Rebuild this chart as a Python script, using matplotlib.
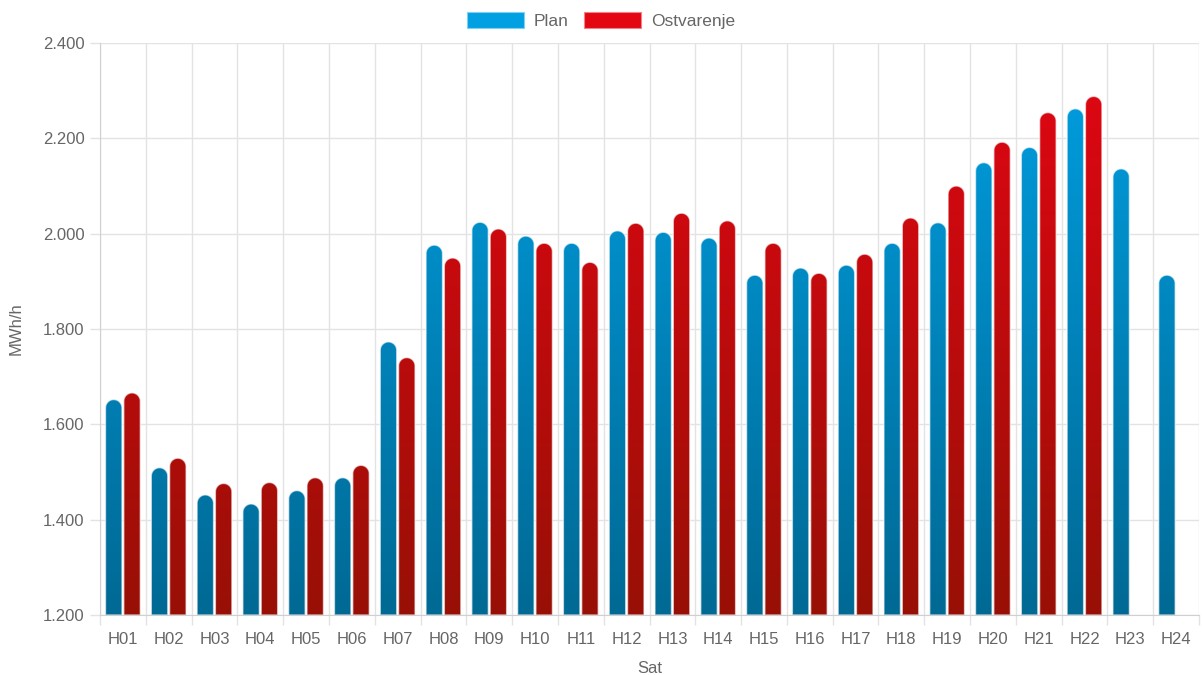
import numpy as np
import matplotlib
matplotlib.use("Agg")
import matplotlib.pyplot as plt
from matplotlib.path import Path
from matplotlib.patches import PathPatch, Patch
from matplotlib.colors import LinearSegmentedColormap
from matplotlib.ticker import FixedLocator, FuncFormatter

plt.rcParams['font.family'] = ['Liberation Sans', 'DejaVu Sans']

hours = [f"H{i:02d}" for i in range(1, 25)]
plan = [1652, 1509, 1452, 1433, 1461, 1488, 1773, 1976, 2024, 1995, 1980, 2006,
        2003, 1991, 1913, 1928, 1934, 1980, 2023, 2149, 2181, 2262, 2136, 1913]
ostvarenje = [1666, 1529, 1476, 1478, 1488, 1514, 1740, 1949, 2010, 1980, 1940, 2022,
              2043, 2027, 1980, 1917, 1957, 2033, 2100, 2192, 2254, 2288, None, None]

YMIN, YMAX = 1200, 2400
GREY = "#666666"

fig = plt.figure(figsize=(12.02, 6.75), dpi=100)
ax = fig.add_axes([100 / 1202, 60 / 675, 1099 / 1202, 572 / 675])
ax.set_xlim(-0.5, 23.5)
ax.set_ylim(YMIN, YMAX)

# pixel -> data scale, for round bar tops
px_x = 1099 / 24.0
px_y = 572 / (YMAX - YMIN)

W = 0.36
OFF = 0.2


def rounded_paths(xs, vals):
    paths = []
    rx = W / 2
    ry = rx * px_x / px_y
    t = np.linspace(0, np.pi, 24)
    for x, v in zip(xs, vals):
        if v is None:
            continue
        x0, x1 = x - rx, x + rx
        cy = v - ry
        arc = np.column_stack([x + rx * np.cos(t), cy + ry * np.sin(t)])
        verts = np.vstack([[x0, YMIN], [x1, YMIN], [x1, cy], arc, [x0, YMIN]])
        codes = [Path.MOVETO] + [Path.LINETO] * (len(verts) - 2) + [Path.CLOSEPOLY]
        paths.append(Path(verts, codes))
    return paths


xs = np.arange(len(hours))
series = [
    ("Plan", plan, -OFF, "#006994", "#00a0e3"),
    ("Ostvarenje", ostvarenje, OFF, "#981006", "#e30613"),
]
grad = np.linspace(0, 1, 256).reshape(-1, 1)
for label, vals, off, c_bot, c_top in series:
    cmap = LinearSegmentedColormap.from_list(label, [c_bot, c_top])
    paths = rounded_paths(xs + off, vals)
    comp = Path.make_compound_path(*paths)
    im = ax.imshow(grad, cmap=cmap, aspect="auto", origin="lower",
                   extent=[-0.5, 23.5, YMIN, YMAX], zorder=2)
    clip = PathPatch(comp, transform=ax.transData, facecolor="none", edgecolor="none")
    ax.add_patch(clip)
    im.set_clip_path(clip)
    for p in paths:
        ax.add_patch(PathPatch(p, facecolor="none", edgecolor="white",
                               lw=1.0, alpha=0.6, zorder=3))

# grid and ticks
ax.set_xticks(xs)
ax.set_xticklabels(hours)
ax.xaxis.set_minor_locator(FixedLocator(np.arange(-0.5, 24, 1)))
ax.tick_params(axis="x", which="major", length=0, pad=12, labelsize=12, labelcolor=GREY)
ax.tick_params(axis="x", which="minor", length=7, color="#e3e3e3", width=1)
ax.grid(axis="x", which="minor", color="#e3e3e3", lw=1)

ax.set_yticks(np.arange(YMIN, YMAX + 1, 200))
ax.yaxis.set_major_formatter(FuncFormatter(lambda v, _: f"{int(v):,}".replace(",", ".")))
ax.tick_params(axis="y", length=7, color="#e3e3e3", width=1, pad=4, labelsize=12, labelcolor=GREY)
ax.grid(axis="y", color="#e3e3e3", lw=1)
ax.set_axisbelow(True)

for s in ["top", "right"]:
    ax.spines[s].set_visible(False)
ax.spines["left"].set_color("#d0d0d0")
ax.spines["bottom"].set_color("#d0d0d0")

ax.set_xlabel("Sat", fontsize=12, color=GREY, labelpad=10)
ax.set_ylabel("MWh/h", fontsize=12, color=GREY, labelpad=14)

handles = [Patch(facecolor="#00a0e3", edgecolor="#7fcff1", lw=0.8),
           Patch(facecolor="#e30613", edgecolor="#f18289", lw=0.8)]
fig.legend(handles, ["Plan", "Ostvarenje"], loc="upper center", ncol=2,
           bbox_to_anchor=(0.5, 1.005), frameon=False, fontsize=12.5,
           labelcolor=GREY, handlelength=3.3, handleheight=1.0,
           handletextpad=0.55, columnspacing=0.9)

fig.savefig("out.png", dpi=100)
